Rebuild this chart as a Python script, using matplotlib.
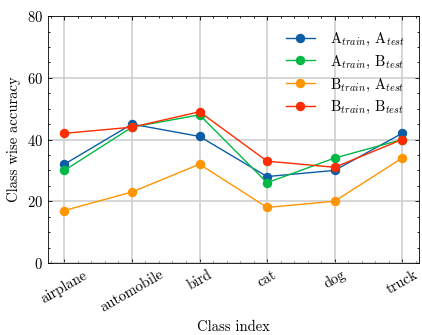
import matplotlib
matplotlib.use("Agg")
import matplotlib.pyplot as plt
from matplotlib.ticker import AutoMinorLocator, MultipleLocator

categories = ["airplane", "automobile", "bird", "cat", "dog", "truck"]
a_train_a_test = [32, 45, 41, 28, 30, 42]
a_train_b_test = [30, 44, 48, 26, 34, 40]
b_train_a_test = [17, 23, 32, 18, 20, 34]
b_train_b_test = [42, 44, 49, 33, 31, 40]

labels = [r"A$_{train}$, A$_{test}$", r"A$_{train}$, B$_{test}$",
          r"B$_{train}$, A$_{test}$", r"B$_{train}$, B$_{test}$"]
colors = ["#0C5DA5", "#00B945", "#FF9500", "#FF2C00"]

plt.rcParams.update({
    "font.family": "serif",
    "font.serif": ["cmr10"],
    "mathtext.fontset": "cm",
    "axes.formatter.use_mathtext": True,
    "font.size": 10.5,
    "xtick.direction": "in",
    "ytick.direction": "in",
    "xtick.top": True,
    "ytick.right": True,
    "xtick.major.size": 3,
    "ytick.major.size": 3,
    "xtick.minor.size": 1.5,
    "ytick.minor.size": 1.5,
    "xtick.major.width": 0.6,
    "ytick.major.width": 0.6,
    "xtick.minor.width": 0.6,
    "ytick.minor.width": 0.6,
    "axes.linewidth": 0.6,
})

fig = plt.figure(figsize=(4.22, 3.35), dpi=100)
ax = fig.add_axes([0.1126, 0.215, 0.993 - 0.1126, 0.952 - 0.215])

x = list(range(len(categories)))
for series, lab, c in zip([a_train_a_test, a_train_b_test, b_train_a_test, b_train_b_test], labels, colors):
    ax.plot(x, series, marker="o", color=c, label=lab, linewidth=1.0, markersize=5.8)

ax.set_ylim(0, 80)
ax.yaxis.set_major_locator(MultipleLocator(20))
ax.yaxis.set_minor_locator(AutoMinorLocator(4))
ax.set_xticks(x)
ax.set_xticklabels(categories, rotation=30)
ax.xaxis.set_minor_locator(AutoMinorLocator(5))
ax.grid(True, color="#d0d0d0", linewidth=1.2)
ax.set_axisbelow(True)
ax.set_xlabel("Class index")
ax.set_ylabel("Class wise accuracy")
ax.legend(loc="upper right", frameon=False, fontsize=10.5, labelspacing=0.4,
          handletextpad=1.0, borderaxespad=0.6)

fig.savefig("out.png", dpi=100)
